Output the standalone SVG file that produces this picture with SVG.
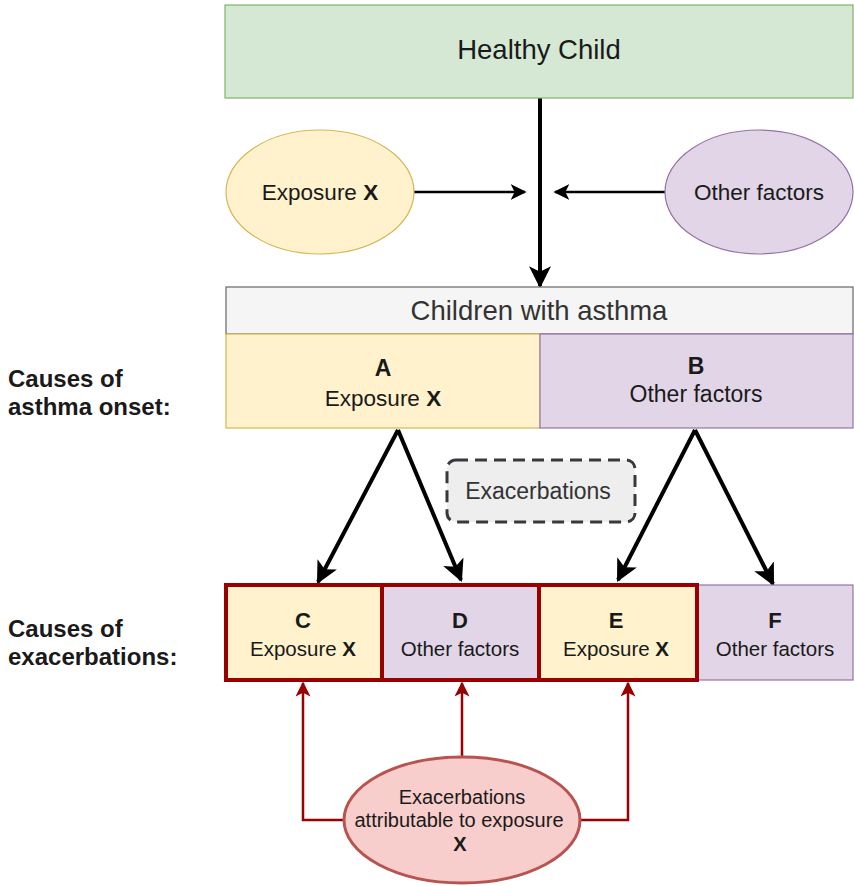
<svg xmlns="http://www.w3.org/2000/svg" width="854" height="886" viewBox="0 0 854 886">
<style>
text{font-family:"Liberation Sans",Arial,sans-serif;fill:#1a1a1a;text-anchor:middle}
.b{font-weight:bold}
.lbl{text-anchor:start;font-weight:bold;font-size:24px}
.blk{stroke:#000;stroke-width:4;fill:none}
.red{stroke:#990000;stroke-width:2.5;fill:none}
.yel{fill:#fff2cc;stroke:#d6b656;stroke-width:1.2}
.pur{fill:#e1d5e7;stroke:#9673a6;stroke-width:1.2}
.hl{fill:none;stroke:#990000;stroke-width:4}
</style>
<defs>
<marker id="ab" markerUnits="userSpaceOnUse" viewBox="0 0 20 20" refX="18" refY="10" markerWidth="22" markerHeight="22" orient="auto">
<path d="M0,0 L20,10 L0,20 L5,10 Z" fill="#000"/>
</marker>
<marker id="as" markerUnits="userSpaceOnUse" viewBox="0 0 20 20" refX="18" refY="10" markerWidth="16" markerHeight="16" orient="auto">
<path d="M0,0 L20,10 L0,20 L5,10 Z" fill="#000"/>
</marker>
<marker id="ar" markerUnits="userSpaceOnUse" viewBox="0 0 20 20" refX="18" refY="10" markerWidth="15" markerHeight="15" orient="auto">
<path d="M0,0 L20,10 L0,20 L5,10 Z" fill="#990000"/>
</marker>
</defs>

<g id="connectors">
<line class="blk" x1="540" y1="98" x2="540" y2="286" marker-end="url(#ab)"/>
<line x1="413" y1="192" x2="525" y2="192" stroke="#000" stroke-width="2.5" marker-end="url(#as)"/>
<line x1="665" y1="192" x2="555" y2="192" stroke="#000" stroke-width="2.5" marker-end="url(#as)"/>
<line class="blk" x1="398" y1="430" x2="318" y2="582" marker-end="url(#ab)"/>
<line class="blk" x1="398" y1="430" x2="461" y2="580" marker-end="url(#ab)"/>
<line class="blk" x1="695" y1="430" x2="618" y2="580" marker-end="url(#ab)"/>
<line class="blk" x1="695" y1="430" x2="773" y2="584" marker-end="url(#ab)"/>
<polyline class="red" points="346,820 303,820 303,683" marker-end="url(#ar)"/>
<line class="red" x1="462" y1="757" x2="462" y2="683" marker-end="url(#ar)"/>
<polyline class="red" points="580,820 628,820 628,683" marker-end="url(#ar)"/>
</g>

<g id="healthy">
<rect x="225" y="5" width="628" height="93" fill="#d5e8d4" stroke="#82b366" stroke-width="1.2"/>
<text x="539" y="59" font-size="27.5">Healthy Child</text>
</g>

<g id="expX">
<ellipse cx="320" cy="192" rx="94" ry="62" class="yel"/>
<text x="320" y="200" font-size="22.5">Exposure <tspan class="b">X</tspan></text>
</g>

<g id="other">
<ellipse cx="759" cy="192" rx="94" ry="62" class="pur"/>
<text x="759" y="200" font-size="22.5">Other factors</text>
</g>

<g id="children">
<rect x="226" y="287" width="627" height="47" fill="#f5f5f5" stroke="#666" stroke-width="1.2"/>
<text x="539" y="320" font-size="27.5" style="fill:#333">Children with asthma</text>
</g>

<g id="A">
<rect x="226" y="334" width="314" height="94" class="yel"/>
<text x="383" y="376" font-size="23" class="b">A</text>
<text x="383" y="406" font-size="22.5">Exposure <tspan class="b">X</tspan></text>
</g>

<g id="B">
<rect x="540" y="334" width="313" height="94" class="pur"/>
<text x="696" y="374" font-size="23" class="b">B</text>
<text x="696" y="402" font-size="23">Other factors</text>
</g>

<g id="label-onset">
<text x="8" y="387" class="lbl">Causes of</text>
<text x="8" y="415" class="lbl">asthma onset:</text>
</g>

<g id="exac">
<rect x="447" y="460" width="188" height="62" rx="9" fill="#eeeeee" stroke="#36393d" stroke-width="3" stroke-dasharray="12,7"/>
<text x="538" y="499" font-size="23" style="fill:#333">Exacerbations</text>
</g>

<g id="F">
<rect x="697" y="585" width="156" height="95" class="pur"/>
<text x="775" y="628" font-size="22" class="b">F</text>
<text x="775" y="656" font-size="20.5">Other factors</text>
</g>

<g id="C">
<rect x="226" y="585" width="156" height="95" class="yel" stroke="none"/>
<rect x="226" y="585" width="156" height="95" class="hl"/>
<text x="303" y="628" font-size="22" class="b">C</text>
<text x="303" y="656" font-size="20.5">Exposure <tspan class="b">X</tspan></text>
</g>

<g id="D">
<rect x="382" y="585" width="157" height="95" class="pur" stroke="none"/>
<rect x="382" y="585" width="157" height="95" class="hl"/>
<text x="460" y="628" font-size="22" class="b">D</text>
<text x="460" y="656" font-size="20.5">Other factors</text>
</g>

<g id="E">
<rect x="539" y="585" width="158" height="95" class="yel" stroke="none"/>
<rect x="539" y="585" width="158" height="95" class="hl"/>
<text x="616" y="628" font-size="22" class="b">E</text>
<text x="616" y="656" font-size="20.5">Exposure <tspan class="b">X</tspan></text>
</g>

<g id="label-exac">
<text x="8" y="637" class="lbl">Causes of</text>
<text x="8" y="665" class="lbl">exacerbations:</text>
</g>

<g id="attrib">
<ellipse cx="462" cy="820" rx="118" ry="63" fill="#f8cecc" stroke="#b85450" stroke-width="3"/>
<text x="462" y="804" font-size="20">Exacerbations</text>
<text x="459" y="827" font-size="20">attributable to exposure</text>
<text x="460" y="851" font-size="20" class="b">X</text>
</g>
</svg>
